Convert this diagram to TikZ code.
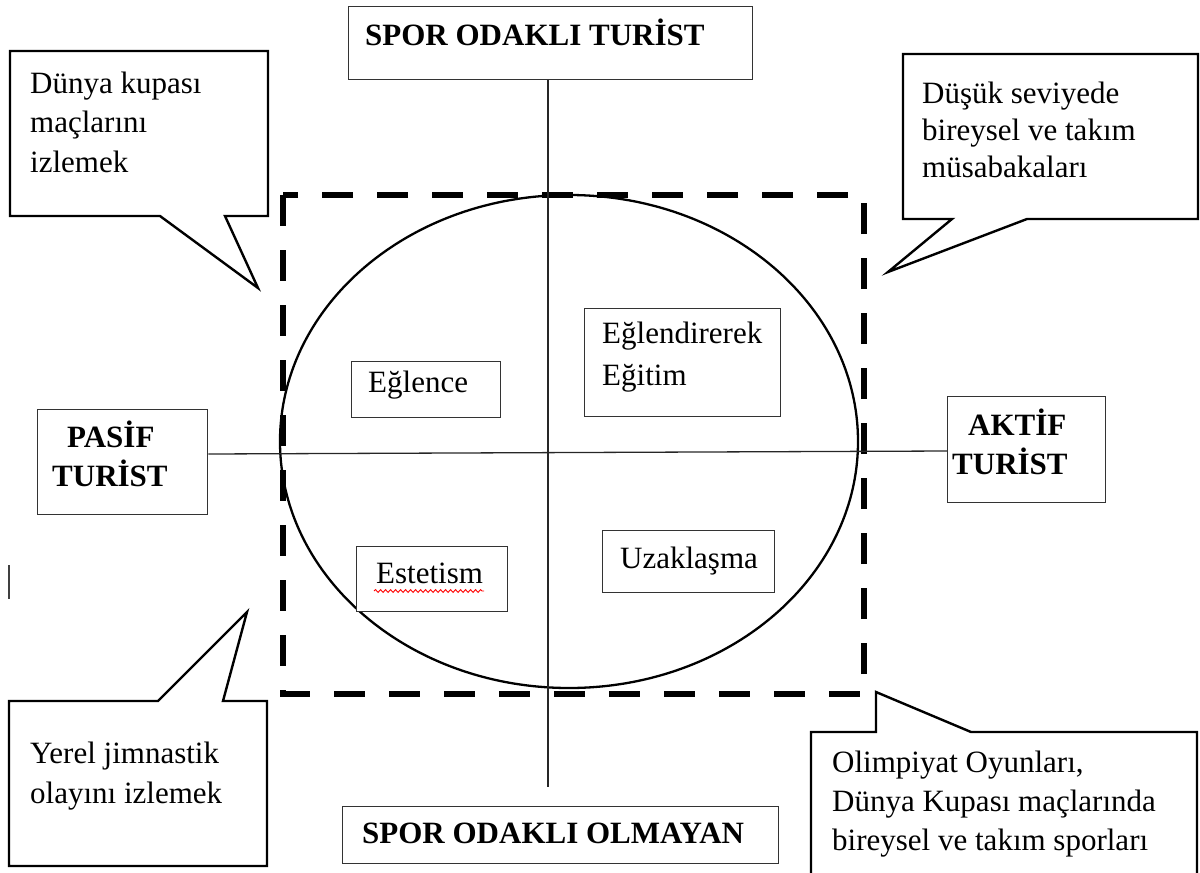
\documentclass[tikz,border=0pt]{standalone}
\usepackage{fontspec}
\setmainfont{Liberation Serif}
\usetikzlibrary{decorations.pathmorphing}
\newcommand\Lines[2]{\vtop{\baselineskip=#1\relax #2}}
\begin{document}
\begin{tikzpicture}[x=1pt,y=-1pt,
  box/.style={draw=black!80, line width=1.3pt, inner sep=0pt, anchor=north west},
  txt/.style={inner sep=0pt, anchor=base west, font=\fontsize{31}{39}\selectfont},
  btxt/.style={inner sep=0pt, anchor=base west, font=\fontsize{31}{39}\selectfont\bfseries},
  callout/.style={draw=black, line width=2.4pt, line join=miter, fill=white},
  axis/.style={draw=black!85, line width=1.3pt},
]
\useasboundingbox (0,0) rectangle (1200,873);

% dashed frame and ellipse
\draw[line width=6pt, dash pattern=on 31pt off 24pt] (283,195) rectangle (864,694);
\draw[line width=2.3pt] (569,441.5) ellipse [x radius=289pt, y radius=246.5pt];

% axis boxes
\node[box, minimum width=404pt, minimum height=73pt] (top) at (348,6) {};
\node[btxt] (topt) at (365,45) {SPOR ODAKLI TURİST};
\node[box, minimum width=436pt, minimum height=57pt] (bot) at (342,806) {};
\node[btxt] (bott) at (362,843) {SPOR ODAKLI OLMAYAN};
\node[box, minimum width=170pt, minimum height=105pt] (pasif) at (37,409) {};
\node[btxt] (pasift) at (52,447) {\Lines{39pt}{\hbox{\hspace*{15pt}PASİF}\hbox{TURİST}}};
\node[box, minimum width=158pt, minimum height=106pt] (aktif) at (947,396) {};
\node[btxt] (aktift) at (952,435) {\Lines{39pt}{\hbox{\hspace*{16pt}AKTİF}\hbox{TURİST}}};

% axes
\coordinate (vend) at (548,787);
\coordinate (hl) at (0,454);
\coordinate (hr) at (0,451);
\draw[axis] (vend |- top.south) -- (vend);
\draw[axis] (pasif.east |- hl) -- (aktif.west |- hr);

% quadrant boxes
\node[box, fill=white, minimum width=149pt, minimum height=56pt] (eg) at (351,361) {};
\node[txt] (egt) at (368,392) {Eğlence};
\node[box, fill=white, minimum width=196pt, minimum height=108pt] (ee) at (584,308) {};
\node[txt] (eet) at (602,343) {\Lines{42pt}{\hbox{Eğlendirerek}\hbox{Eğitim}}};
\node[box, fill=white, minimum width=151pt, minimum height=65pt] (es) at (356,546) {};
\node[txt] (est) at (376,583) {Estetism};
\draw[red, line width=0.9pt, decorate, decoration={snake, amplitude=1.4pt, segment length=5pt}]
  (374,591) -- (484,591);
\node[box, fill=white, minimum width=172pt, minimum height=62pt] (uz) at (602,530) {};
\node[txt] (uzt) at (620,568) {Uzaklaşma};

% callouts
\draw[callout] (10,51) -- (268,51) -- (268,216) -- (225,216) -- (258,288) -- (160,216) -- (10,216) -- cycle;
\node[txt] (c1) at (30,93) {\Lines{39.5pt}{\hbox{Dünya kupası}\hbox{maçlarını}\hbox{izlemek}}};

\draw[callout] (903,54) -- (1198,54) -- (1198,219) -- (1027,219) -- (888,272) -- (952,219) -- (903,219) -- cycle;
\node[txt] (c2) at (922,103) {\Lines{37pt}{\hbox{Düşük seviyede}\hbox{bireysel ve takım}\hbox{müsabakaları}}};

\draw[callout] (9,701) -- (158,701) -- (247,612) -- (223,701) -- (267,701) -- (267,866) -- (9,866) -- cycle;
\node[txt] (c3) at (30,763) {\Lines{40pt}{\hbox{Yerel jimnastik}\hbox{olayını izlemek}}};

\draw[callout] (811,732) -- (876,732) -- (876,692) -- (971,732) -- (1197,732) -- (1197,885) -- (811,885) -- cycle;
\node[txt] (c4) at (832,772) {\Lines{39pt}{\hbox{Olimpiyat Oyunları,}\hbox{Dünya Kupası maçlarında}\hbox{bireysel ve takım sporları}}};

% stray mark
\draw[line width=2pt, black!75] (9,565) -- (9,599);
\end{tikzpicture}
\end{document}
